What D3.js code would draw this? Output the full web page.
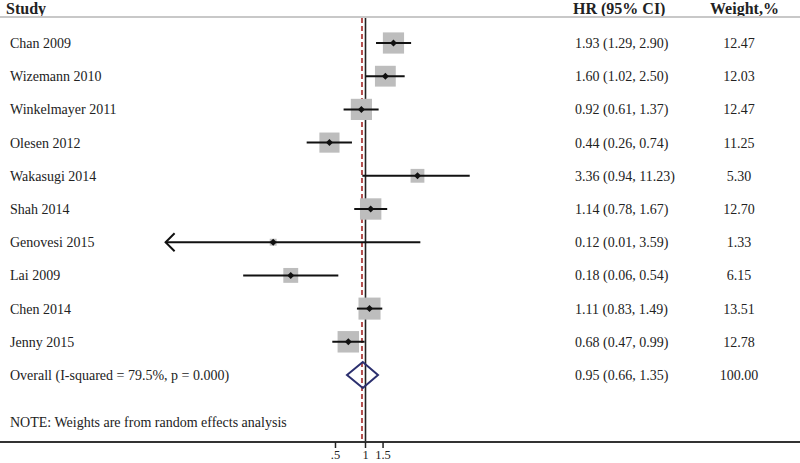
<!DOCTYPE html>
<html>
<head>
<meta charset="utf-8">
<script src="https://cdn.jsdelivr.net/npm/d3@7"></script>
<style>
  body { margin: 0; background: #fff; }
  text { font-family: "Liberation Serif", "Times New Roman", serif; fill: #222; }
</style>
</head>
<body>
<div id="visual"></div>
<script>
// Study data
const studies = ["Chan 2009", "Wizemann 2010", "Winkelmayer 2011", "Olesen 2012", "Wakasugi 2014",
  "Shah 2014", "Genovesi 2015", "Lai 2009", "Chen 2014", "Jenny 2015"];
const hr = [1.93, 1.60, 0.92, 0.44, 3.36, 1.14, 0.12, 0.18, 1.11, 0.68];
const lower = [1.29, 1.02, 0.61, 0.26, 0.94, 0.78, 0.01, 0.06, 0.83, 0.47];
const upper = [2.90, 2.50, 1.37, 0.74, 11.23, 1.67, 3.59, 0.54, 1.49, 0.99];
const weights = ["12.47", "12.03", "12.47", "11.25", "5.30", "12.70", "1.33", "6.15", "13.51", "12.78"];
const overall = { label: "Overall  (I-squared = 79.5%, p = 0.000)", hr: 0.95, lower: 0.66, upper: 1.35, weight: "100.00" };
const tickValues = [0.5, 1, 1.5];
const tickLabels = [".5", "1", "1.5"];
const note = "NOTE: Weights are from random effects analysis";

const width = 800, height = 463;
const fs = 14;
const svg = d3.select("#visual").append("svg")
  .attr("width", width).attr("height", height);

const fmt = v => v.toFixed(2);
const rows = studies.map((s, i) => ({ study: s, hr: hr[i], lo: lower[i], hi: upper[i], w: weights[i] }));

// Scales
const x = d3.scaleLog().domain([0.01, 100]).range([165.6, 564.4]);
const y = d3.scalePoint().domain(d3.range(11)).range([43, 375]);
const boxSide = d3.scaleSqrt().domain([0, 100]).range([0, 60]);

const topY = 18, axisY = 442;

// header
svg.append("text").attr("x", 6).attr("y", 14).attr("font-weight", "bold").attr("font-size", 16).text("Study");
svg.append("text").attr("x", 573).attr("y", 14).attr("font-weight", "bold").attr("font-size", 16).text("HR (95% CI)");
svg.append("text").attr("x", 710).attr("y", 14).attr("font-weight", "bold").attr("font-size", 16).text("Weight,%");
svg.append("line").attr("x1", 0).attr("x2", width).attr("y1", 17).attr("y2", 17)
  .attr("stroke", "#c8c8c8").attr("stroke-width", 2);

// reference lines
svg.append("line").attr("x1", x(1) + 0.5).attr("x2", x(1) + 0.5).attr("y1", topY).attr("y2", axisY)
  .attr("stroke", "#222").attr("stroke-width", 1.6);
svg.append("line").attr("x1", x(overall.hr) - 0.8).attr("x2", x(overall.hr) - 0.8).attr("y1", topY).attr("y2", axisY)
  .attr("stroke", "#b5504f").attr("stroke-width", 2).attr("stroke-dasharray", "5,3");

// study rows
const g = svg.selectAll("g.row").data(rows).enter().append("g").attr("class", "row");

g.append("rect")
  .attr("x", d => x(d.hr) - boxSide(+d.w) / 2)
  .attr("y", (d, i) => y(i) - boxSide(+d.w) / 2)
  .attr("width", d => boxSide(+d.w))
  .attr("height", d => boxSide(+d.w))
  .attr("fill", "#bdbdbd");

g.append("line")
  .attr("x1", d => x(Math.max(d.lo, 0.01)))
  .attr("x2", d => x(d.hi))
  .attr("y1", (d, i) => y(i)).attr("y2", (d, i) => y(i))
  .attr("stroke", "#111").attr("stroke-width", 2);

// arrow when CI is cut off at the left
g.filter(d => d.lo <= 0.01).append("path")
  .attr("d", function(d) {
    const i = rows.indexOf(d);
    const x0 = x(0.01), y0 = y(i);
    return `M${x0 + 9},${y0 - 9} L${x0},${y0} L${x0 + 9},${y0 + 9}`;
  })
  .attr("fill", "none").attr("stroke", "#111").attr("stroke-width", 2);

g.append("path")
  .attr("d", (d, i) => {
    const cx = x(d.hr), cy = y(i);
    return `M${cx - 3.5},${cy} L${cx},${cy - 3.5} L${cx + 3.5},${cy} L${cx},${cy + 3.5}Z`;
  })
  .attr("fill", "#111");

g.append("text").attr("x", 10).attr("y", (d, i) => y(i) + 5).attr("font-size", fs).text(d => d.study);
g.append("text").attr("x", 575).attr("y", (d, i) => y(i) + 5).attr("font-size", fs)
  .text(d => `${fmt(d.hr)} (${fmt(d.lo)}, ${fmt(d.hi)})`);
g.append("text").attr("x", 739).attr("y", (d, i) => y(i) + 5).attr("font-size", fs)
  .attr("text-anchor", "middle").text(d => d.w);

// overall diamond
const oy = y(10);
svg.append("path")
  .attr("d", `M${x(overall.lower)},${oy} L${x(overall.hr)},${oy - 13} L${x(overall.upper)},${oy} L${x(overall.hr)},${oy + 13}Z`)
  .attr("fill", "none").attr("stroke", "#2b2f6e").attr("stroke-width", 2);
svg.append("text").attr("x", 10).attr("y", oy + 5).attr("font-size", fs).text(overall.label);
svg.append("text").attr("x", 575).attr("y", oy + 5).attr("font-size", fs)
  .text(`${fmt(overall.hr)} (${fmt(overall.lower)}, ${fmt(overall.upper)})`);
svg.append("text").attr("x", 739).attr("y", oy + 5).attr("font-size", fs)
  .attr("text-anchor", "middle").text(overall.weight);

// note
svg.append("text").attr("x", 10).attr("y", 427).attr("font-size", fs).text(note);

// x axis
svg.append("line").attr("x1", 0).attr("x2", width).attr("y1", axisY).attr("y2", axisY)
  .attr("stroke", "#333").attr("stroke-width", 2);
const axis = svg.append("g").attr("transform", `translate(0,${axisY})`)
  .call(d3.axisBottom(x).tickValues(tickValues).tickFormat((d, i) => tickLabels[i]).tickSize(6).tickPadding(2));
axis.select(".domain").remove();
axis.selectAll(".tick line").attr("stroke", "#222").attr("stroke-width", 1.5);
axis.selectAll(".tick text").attr("font-family", "Liberation Serif, serif").attr("font-size", 12.5).attr("fill", "#222");
</script>
</body>
</html>
